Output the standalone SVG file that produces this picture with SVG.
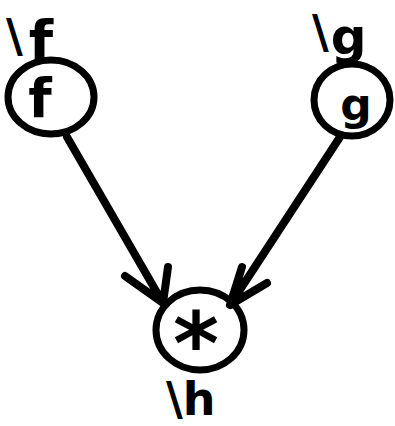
<svg xmlns="http://www.w3.org/2000/svg" width="395" height="426" viewBox="0 0 395 426">
<style>
.ring{fill:none;stroke:#000;stroke-width:7}
.edge{fill:none;stroke:#000;stroke-width:8;stroke-linecap:round;stroke-linejoin:round}
.t{font-family:"DejaVu Sans",sans-serif;font-weight:bold;fill:#000;text-anchor:middle}
.lbl{font-family:"DejaVu Sans",sans-serif;font-weight:bold;fill:#000}
</style>
<rect width="395" height="426" fill="#fff"/>
<g id="connectors">
<path class="edge" d="M67,137 L163,303 M125,276 L163,303 L168,267"/>
<path class="edge" d="M340,137 L230,305 M242,267 L230,305 L267,283"/>
</g>
<g id="node-f">
<text class="lbl" x="6" y="52" font-size="46">\<tspan font-size="56" dx="6" dy="8">f</tspan></text>
<ellipse class="ring" cx="51" cy="97" rx="43" ry="37"/>
<text class="t" x="40" y="117" font-size="54">f</text>
</g>
<g id="node-g">
<text class="lbl" x="312" y="48" font-size="46">\<tspan font-size="50" dx="2" dy="6">g</tspan></text>
<ellipse class="ring" cx="352" cy="100" rx="38" ry="36"/>
<text class="t" x="356" y="120" font-size="44">g</text>
</g>
<g id="node-h">
<ellipse class="ring" cx="200" cy="330" rx="44" ry="40"/>
<text class="t" x="196" y="374" font-size="88">*</text>
<text class="lbl" x="166" y="415" font-size="46">\h</text>
</g>
</svg>
